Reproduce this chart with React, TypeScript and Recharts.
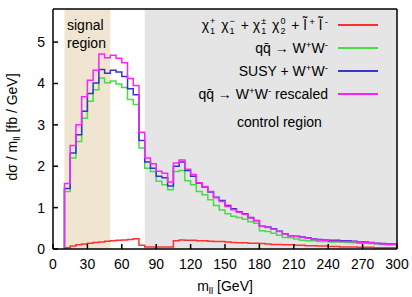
import React from "react";
import { LineChart, Line, XAxis, YAxis, ReferenceArea } from "recharts";

// lower bin edges, 5 GeV wide histogram bins
const binEdges = [
    10, 15, 20, 25, 30, 35, 40, 45, 50, 55, 60, 65, 70, 75, 80, 85, 90, 95, 100, 105,
    110, 115, 120, 125, 130, 135, 140, 145, 150, 155, 160, 165, 170, 175, 180, 185, 190, 195, 200, 205,
    210, 215, 220, 225, 230, 235, 240, 245, 250, 255, 260, 265, 270, 275, 280, 285, 290, 295
];
const lastEdge = 300;

const susyOnly = [
    0.03, 0.07, 0.10, 0.12, 0.14, 0.16, 0.17, 0.19, 0.20, 0.21, 0.22, 0.23, 0.25, 0.09, 0.05, 0.05, 0.05, 0.05, 0.05, 0.20,
    0.22, 0.21, 0.21, 0.20, 0.20, 0.19, 0.18, 0.18, 0.17, 0.16, 0.15, 0.15, 0.14, 0.14, 0.13, 0.12, 0.11, 0.11, 0.10, 0.10,
    0.09, 0.09, 0.08, 0.08, 0.07, 0.07, 0.06, 0.06, 0.05, 0.05, 0.05, 0.04, 0.04, 0.04, 0.03, 0.03, 0.03, 0.03
];
const wwOnly = [
    1.39, 2.20, 2.60, 3.16, 3.57, 3.85, 4.13, 4.02, 4.06, 3.99, 3.90, 3.61, 3.49, 2.44, 1.95, 1.87, 1.64, 1.55, 1.43, 1.87,
    1.90, 1.65, 1.55, 1.39, 1.31, 1.19, 1.05, 0.94, 0.85, 0.79, 0.76, 0.72, 0.66, 0.62, 0.44, 0.42, 0.38, 0.33, 0.28, 0.27,
    0.24, 0.21, 0.20, 0.20, 0.18, 0.18, 0.17, 0.17, 0.17, 0.16, 0.15, 0.14, 0.14, 0.13, 0.12, 0.11, 0.11, 0.10
];
const susyPlusWw = [
    1.46, 2.32, 2.76, 3.33, 3.76, 4.01, 4.34, 4.25, 4.32, 4.28, 4.17, 3.87, 3.73, 2.62, 2.10, 1.95, 1.76, 1.72, 1.52, 2.00,
    2.10, 1.90, 1.76, 1.59, 1.50, 1.38, 1.25, 1.17, 1.05, 0.97, 0.90, 0.85, 0.76, 0.69, 0.55, 0.53, 0.49, 0.43, 0.37, 0.32,
    0.31, 0.29, 0.27, 0.24, 0.23, 0.22, 0.21, 0.21, 0.20, 0.20, 0.19, 0.17, 0.17, 0.16, 0.14, 0.13, 0.12, 0.12
];
const wwRescaled = [
    1.58, 2.50, 3.00, 3.68, 4.08, 4.32, 4.71, 4.62, 4.68, 4.61, 4.50, 4.12, 3.95, 2.82, 2.20, 2.06, 1.88, 1.83, 1.62, 2.08,
    2.15, 1.93, 1.80, 1.60, 1.51, 1.39, 1.24, 1.15, 1.03, 0.95, 0.89, 0.84, 0.75, 0.68, 0.55, 0.52, 0.48, 0.42, 0.36, 0.32,
    0.30, 0.28, 0.26, 0.23, 0.22, 0.21, 0.19, 0.19, 0.18, 0.18, 0.18, 0.16, 0.16, 0.15, 0.13, 0.12, 0.11, 0.11
];

const xTicks = [0, 30, 60, 90, 120, 150, 180, 210, 240, 270, 300];
const yTicks = [0, 1, 2, 3, 4, 5];

const colors = { red: "#ff3030", green: "#44dd44", blue: "#3535c8", magenta: "#ff22ff" };
const font = "'Liberation Sans', Arial, sans-serif";

// step histogram: start at zero on the first edge, close on the last edge
const rows = [
    { x: binEdges[0], red: 0, green: 0, blue: 0, magenta: 0 },
    ...binEdges.map((x, i) => ({ x, red: susyOnly[i], green: wwOnly[i], blue: susyPlusWw[i], magenta: wwRescaled[i] })),
    {
        x: lastEdge,
        red: susyOnly[susyOnly.length - 1],
        green: wwOnly[wwOnly.length - 1],
        blue: susyPlusWw[susyPlusWw.length - 1],
        magenta: wwRescaled[wwRescaled.length - 1]
    }
];

const Sup = ({ children }) => (
    <span style={{ fontSize: "0.7em", verticalAlign: "0.5em", lineHeight: 0 }}>{children}</span>
);
const Sub = ({ children }) => (
    <span style={{ fontSize: "0.7em", verticalAlign: "-0.3em", lineHeight: 0 }}>{children}</span>
);
// chi with a superscript stacked over a subscript
const Chi = ({ sup, sub }) => (
    <span>
        χ
        <span style={{ display: "inline-block", fontSize: 9, lineHeight: "10px", verticalAlign: "-4px", textAlign: "left", marginLeft: 1, marginRight: 2 }}>
            <span style={{ display: "block" }}>{sup}</span>
            <span style={{ display: "block" }}>{sub}</span>
        </span>
    </span>
);

const legendRows = [
    {
        color: colors.red, y: 25,
        label: <><Chi sup="+" sub="1" /> <Chi sup="−" sub="1" /> + <Chi sup="±" sub="1" /> <Chi sup="0" sub="2" /> + l̃<Sup> +</Sup> l̃<Sup> -</Sup></>
    },
    { color: colors.green, y: 48, label: <>qq̄ → W<Sup>+</Sup>W<Sup>-</Sup></> },
    { color: colors.blue, y: 71, label: <>SUSY + W<Sup>+</Sup>W<Sup>-</Sup></> },
    { color: colors.magenta, y: 94, label: <>qq̄ → W<Sup>+</Sup>W<Sup>-</Sup> rescaled</> }
];

const axisLine = { stroke: "#000", strokeWidth: 1.5 };
const tickLine = { stroke: "#000", strokeWidth: 1.5 };

export default function App() {
    return (
        <div style={{ position: "relative", width: 412, height: 297, fontFamily: font, color: "#000" }}>
            <style>{"body{margin:0}"}</style>
            <LineChart width={412} height={297} data={rows} margin={{ top: 0, right: 0, bottom: 0, left: 0 }} style={{ fontFamily: font }}>
                <ReferenceArea x1={10} x2={50} fill="#efe5d1" fillOpacity={1} stroke="none" />
                <ReferenceArea x1={80} x2={300} fill="#e5e5e5" fillOpacity={1} stroke="none" />
                <XAxis
                    dataKey="x"
                    type="number"
                    domain={[0, 300]}
                    ticks={xTicks}
                    height={48}
                    axisLine={axisLine}
                    tickLine={tickLine}
                    tickSize={-5}
                    tickMargin={15}
                    tick={{ fill: "#000", fontSize: 14 }}
                    allowDataOverflow
                />
                <XAxis
                    xAxisId="top"
                    orientation="top"
                    dataKey="x"
                    type="number"
                    domain={[0, 300]}
                    ticks={xTicks}
                    height={9}
                    axisLine={axisLine}
                    tickLine={tickLine}
                    tickSize={-5}
                    tick={false}
                    allowDataOverflow
                />
                <YAxis
                    type="number"
                    domain={[0, 5.8]}
                    ticks={yTicks}
                    width={53}
                    axisLine={axisLine}
                    tickLine={tickLine}
                    tickSize={-5}
                    tickMargin={13}
                    tick={{ fill: "#000", fontSize: 14 }}
                    allowDataOverflow
                />
                <YAxis
                    yAxisId="right"
                    orientation="right"
                    type="number"
                    domain={[0, 5.8]}
                    ticks={yTicks}
                    width={15}
                    axisLine={axisLine}
                    tickLine={tickLine}
                    tickSize={-5}
                    tick={false}
                    allowDataOverflow
                />
                <Line type="stepAfter" dataKey="red" stroke={colors.red} strokeWidth={1.5} dot={false} isAnimationActive={false} />
                <Line type="stepAfter" dataKey="green" stroke={colors.green} strokeWidth={1.5} dot={false} isAnimationActive={false} />
                <Line type="stepAfter" dataKey="blue" stroke={colors.blue} strokeWidth={1.5} dot={false} isAnimationActive={false} />
                <Line type="stepAfter" dataKey="magenta" stroke={colors.magenta} strokeWidth={1.5} dot={false} isAnimationActive={false} />
            </LineChart>

            {legendRows.map((row, i) => (
                <React.Fragment key={i}>
                    <div style={{ position: "absolute", left: 0, width: 328, top: row.y - 9, height: 18, lineHeight: "18px", fontSize: 14, textAlign: "right", whiteSpace: "nowrap" }}>
                        {row.label}
                    </div>
                    <div style={{ position: "absolute", left: 338, width: 40, top: row.y - 1, height: 2, background: row.color }} />
                </React.Fragment>
            ))}

            <div style={{ position: "absolute", left: 67, top: 16, fontSize: 14, lineHeight: "18px" }}>
                signal<br />region
            </div>
            <div style={{ position: "absolute", left: 237, top: 113, fontSize: 14, lineHeight: "18px" }}>
                control region
            </div>

            <div style={{ position: "absolute", left: 12, top: 127, fontSize: 14, whiteSpace: "nowrap", transform: "translate(-50%, -50%) rotate(-90deg)" }}>
                dσ / m<Sub>ll</Sub> [fb / GeV]
            </div>
            <div style={{ position: "absolute", left: 225, top: 286, fontSize: 14, whiteSpace: "nowrap", transform: "translate(-50%, -50%)" }}>
                m<Sub>ll</Sub> [GeV]
            </div>
        </div>
    );
}
